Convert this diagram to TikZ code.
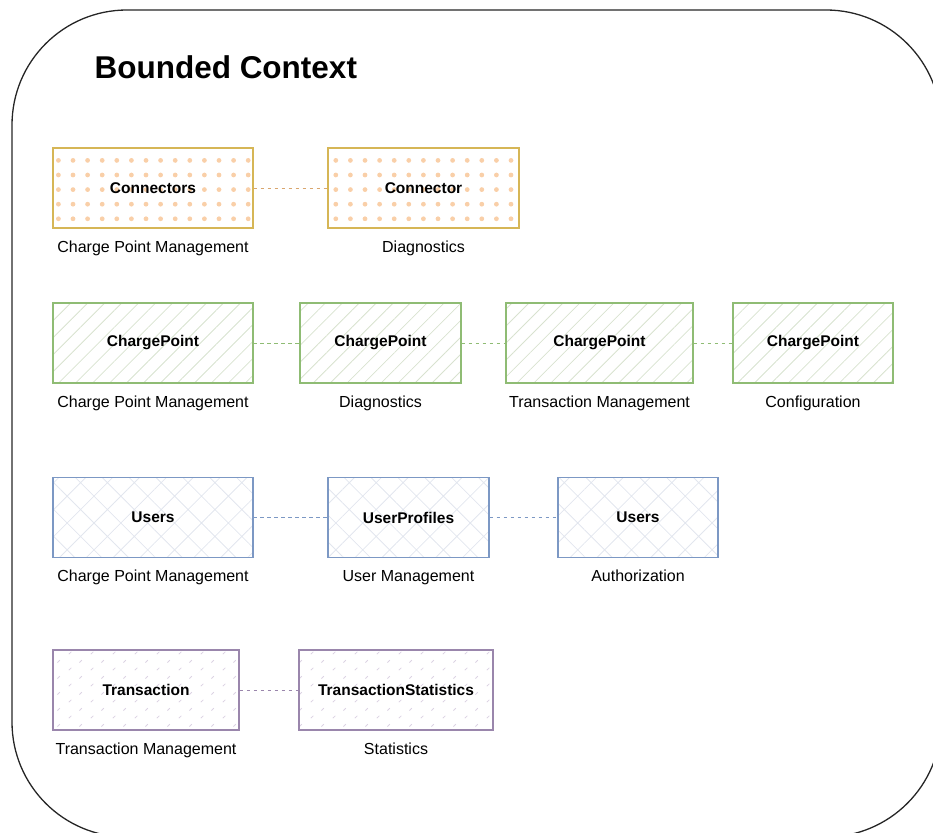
\documentclass[tikz,border=0pt]{standalone}
\usepackage{fontspec}
\setmainfont{Liberation Sans}
\usetikzlibrary{patterns.meta}

\definecolor{goldline}{HTML}{D6B656}
\definecolor{goldlink}{HTML}{D9A66E}
\definecolor{peachdot}{HTML}{F9CFA8}
\definecolor{greenline}{HTML}{8FBC74}
\definecolor{greenhatch}{HTML}{D8E2CF}
\definecolor{blueline}{HTML}{7C98C4}
\definecolor{bluehatch}{HTML}{E2E6EE}
\definecolor{purpleline}{HTML}{9A86AC}
\definecolor{purplehatch}{HTML}{DCD3E3}

% short slashes for the statistics row
\tikzdeclarepattern{
  name=ticks,
  type=uncolored,
  bottom left={(0pt,0pt)},
  top right={(22pt,16pt)},
  tile size={(22pt,16pt)},
  code={
    \draw[line width=.8pt] (3pt,3pt) -- (5.5pt,5.5pt);
    \draw[line width=.8pt] (14pt,11pt) -- (16.5pt,13.5pt);
  }
}

\begin{document}
\begin{tikzpicture}[x=1pt,y=-1pt,
  ctxbox/.style={draw, line width=1.1pt, minimum height=80pt, inner sep=0pt,
    font=\fontsize{15.5}{18}\selectfont\bfseries},
  dotbox/.style={ctxbox, draw=goldline,
    pattern={Dots[distance=14.6pt, radius=2.4pt]}, pattern color=peachdot},
  hatchbox/.style={ctxbox, draw=greenline,
    pattern={Lines[angle=45, distance=12pt, line width=.8pt]}, pattern color=greenhatch},
  crossbox/.style={ctxbox, draw=blueline,
    pattern={Hatch[angle=45, distance=19pt, line width=.8pt]}, pattern color=bluehatch},
  tickbox/.style={ctxbox, draw=purpleline, pattern=ticks, pattern color=purplehatch},
  caption/.style={inner sep=0pt, font=\fontsize{16}{19}\selectfont},
  link/.style={line width=.9pt, dash pattern=on 3.5pt off 3.5pt}]

\useasboundingbox (0,0) rectangle (933,832);
\clip (0,0) rectangle (933,832);

% outer context frame, runs off the page on two sides
\draw[line width=1.3pt, draw=black!85, rounded corners=115pt] (12,10) rectangle (941,837);
\node[anchor=west, font=\fontsize{31.5}{38}\selectfont\bfseries] (title) at (91,67.5) {Bounded Context};

% connectors
\node[dotbox, minimum width=200pt, label={[caption, label distance=12.5pt]below:Charge Point Management}] (cpmconn) at (153,188) {Connectors};
\node[dotbox, minimum width=191pt, label={[caption, label distance=12.5pt]below:Diagnostics}] (diagconn) at (423.5,188) {Connector};
\draw[link, goldlink] (cpmconn) -- (diagconn);

% charge points
\node[hatchbox, minimum width=200pt, label={[caption, label distance=12pt]below:Charge Point Management}] (cpmcp) at (153,343) {ChargePoint};
\node[hatchbox, minimum width=161pt, label={[caption, label distance=12pt]below:Diagnostics}] (diagcp) at (380.5,343) {ChargePoint};
\node[hatchbox, minimum width=187pt, label={[caption, label distance=12pt]below:Transaction Management}] (txcp) at (599.5,343) {ChargePoint};
\node[hatchbox, minimum width=160pt, label={[caption, label distance=12pt]below:Configuration}] (cfgcp) at (813,343) {ChargePoint};
\draw[link, greenline] (cpmcp) -- (diagcp);
\draw[link, greenline] (diagcp) -- (txcp);
\draw[link, greenline] (txcp) -- (cfgcp);

% users
\node[crossbox, minimum width=200pt, label={[caption, label distance=12pt]below:Charge Point Management}] (cpmusers) at (153,517.5) {Users};
\node[crossbox, minimum width=161pt, label={[caption, label distance=12pt]below:User Management}] (profiles) at (408.5,517.5) {UserProfiles};
\node[crossbox, minimum width=160pt, label={[caption, label distance=12pt]below:Authorization}] (authusers) at (638,517.5) {Users};
\draw[link, blueline] (cpmusers) -- (profiles);
\draw[link, blueline] (profiles) -- (authusers);

% transactions
\node[tickbox, minimum width=186pt, label={[caption, label distance=12pt]below:Transaction Management}] (tx) at (146,690) {Transaction};
\node[tickbox, minimum width=194pt, label={[caption, label distance=12pt]below:Statistics}] (txstats) at (396,690) {TransactionStatistics};
\draw[link, purpleline] (tx) -- (txstats);
\end{tikzpicture}
\end{document}
